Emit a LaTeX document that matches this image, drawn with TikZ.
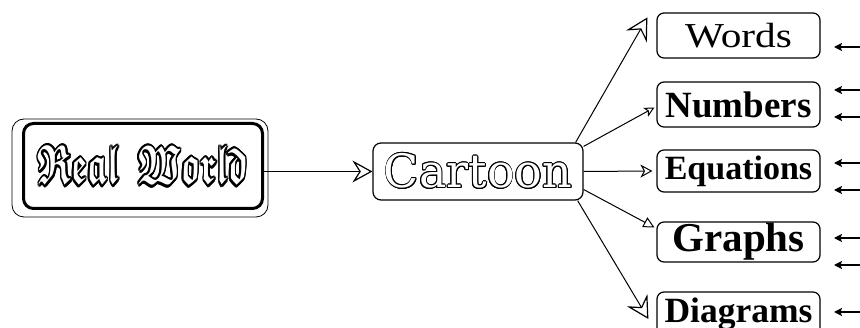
\documentclass[tikz,border=0pt]{standalone}
\usepackage{amsmath,amssymb}
\usepackage{fontspec}
\setmainfont{Liberation Serif}
\newfontfamily\cartfont{DejaVu Serif}
\usepackage{contour}
\usetikzlibrary{arrows.meta}
\tikzset{
  lblbox/.style={draw, line width=1.2pt, rounded corners=7pt, inner sep=0pt, minimum width=163pt},
  link/.style={line width=1pt},
  rarrow/.style={line width=1.3pt, -{Stealth[length=8pt,width=8pt,inset=1.5pt]}},
  bigopen/.style={-{Stealth[open,length=22pt,width=24pt,inset=8pt,line width=1.2pt]}},
}
\begin{document}
\begin{tikzpicture}[x=1pt,y=-1pt]
\useasboundingbox[fill=white] (0,0) rectangle (860,328);
% Real World
\node[draw, line width=3pt, rounded corners=10pt, minimum width=239pt, minimum height=85pt, inner sep=0pt] (real) at (143,166)
  {\contourlength{0.45pt}\resizebox{210pt}{38pt}{\contour{black}{\color{white}$\boldsymbol{\mathfrak{Real}}\;\;\boldsymbol{\mathfrak{World}}$}}};
\draw[line width=0.8pt, rounded corners=12pt] ([shift={(-10pt,3pt)}]real.north west) rectangle ([shift={(4pt,-7pt)}]real.south east);
% Cartoon
\node[draw, line width=1.2pt, rounded corners=8pt, minimum width=210pt, minimum height=57pt, inner sep=0pt] (cartoon) at (478,171.5)
  {\contourlength{0.9pt}\contour{black}{\color{white}\cartfont\fontsize{46}{50}\selectfont Cartoon}};
% labels
\node[lblbox, minimum height=45pt] (words) at (738.5,35.5) {\scalebox{1.18}[1]{\fontsize{35}{40}\selectfont Words}};
\node[lblbox, minimum height=45pt] (numbers) at (738.5,104.5) {\fontsize{37}{40}\selectfont\bfseries Numbers};
\node[lblbox, minimum height=42pt] (equations) at (738.5,171) {\fontsize{34}{40}\selectfont\bfseries Equations};
\node[lblbox, minimum height=40pt] (graphs) at (738.5,242) {\fontsize{41}{44}\selectfont\bfseries Graphs};
\node[lblbox, minimum height=44pt] (diagrams) at (738.5,314) {\fontsize{35.5}{40}\selectfont\bfseries Diagrams};
% connectors
\draw[link, -{Stealth[open,length=20pt,width=22pt,inset=7pt,line width=1.2pt]}] (real.east |- cartoon.west) -- (cartoon.west);
\draw[link, bigopen] ([xshift=-8pt]cartoon.north east) -- ([shift={(-9pt,-5pt)}]words.north west);
\draw[link, -{Stealth[open,length=10pt,width=10pt,inset=2.5pt]}] ([yshift=-4pt]cartoon.north east) -- ([shift={(-2pt,-3pt)}]numbers.west);
\draw[link, -{Stealth[open,length=12pt,width=13pt,inset=3.5pt]}] (cartoon.east) -- ([xshift=-4pt]equations.west);
\draw[link, -{Triangle[open,length=11pt,width=11pt]}] ([yshift=-18pt]cartoon.east) -- ([shift={(-2pt,-6pt)}]graphs.north west);
\draw[link, bigopen] ([xshift=-6pt]cartoon.south east) -- ([shift={(-8pt,-5pt)}]diagrams.west);
% incoming arrows on the right
\foreach \n/\yy in {a/47, b/90, c/117, d/163, e/190, f/238, g/265, h/312} {
  \coordinate (s\n) at (862,\yy);
  \coordinate (t\n) at (834,\yy);
  \draw[rarrow] (s\n) -- (t\n);
}
\end{tikzpicture}
\end{document}
